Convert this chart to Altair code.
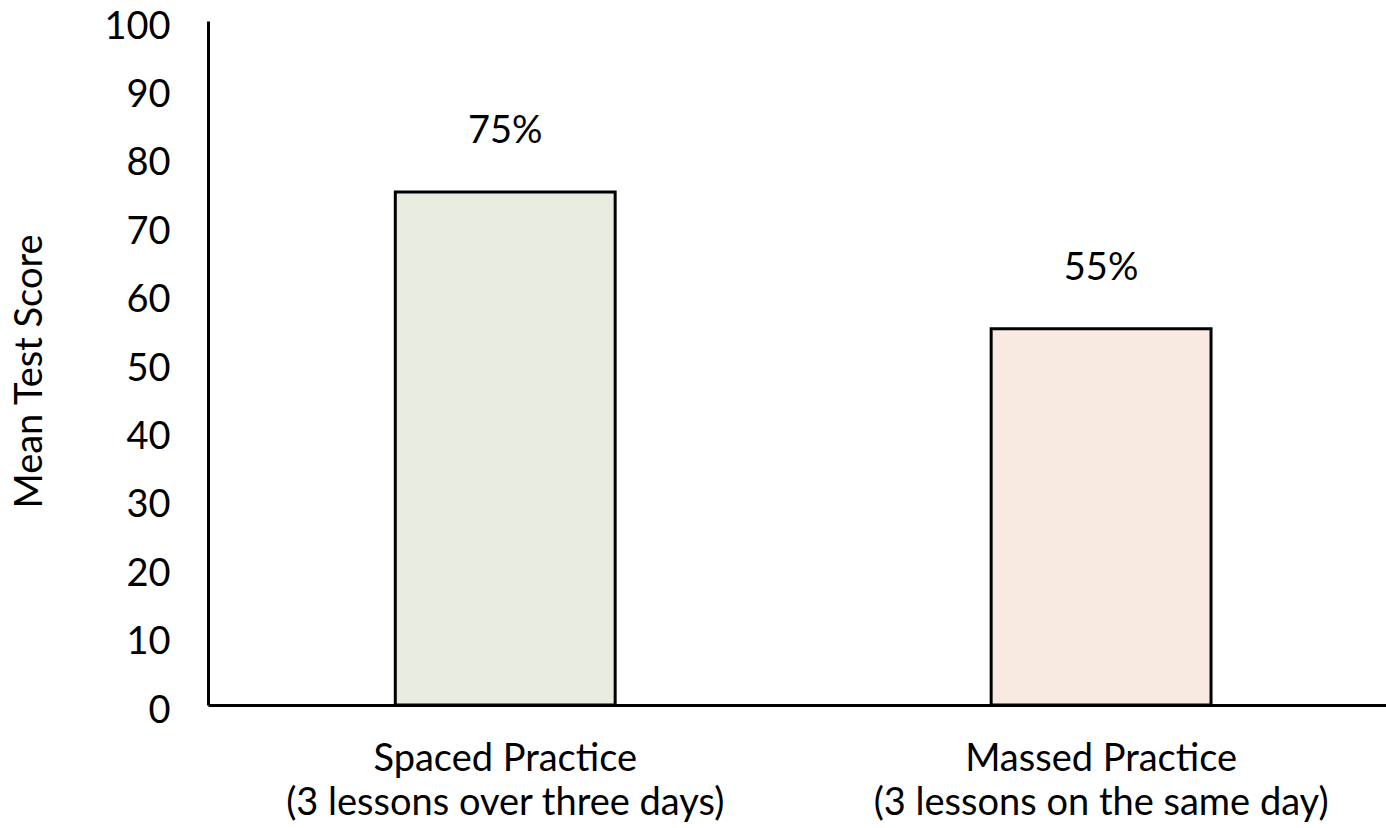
import altair as alt
import pandas as pd

categories = ["Spaced Practice\n(3 lessons over three days)",
              "Massed Practice\n(3 lessons on the same day)"]
scores = [75, 55]
score_labels = ["75%", "55%"]
bar_colors = ["#E9ECE0", "#F8EAE0"]
y_ticks = [0, 10, 20, 30, 40, 50, 60, 70, 80, 90, 100]

df = pd.DataFrame({"cat": categories, "score": scores, "label": score_labels})

FONT = "Lato"
FS = 38

x_enc = alt.X("cat:N", sort=categories,
              scale=alt.Scale(paddingInner=0.631, paddingOuter=0.304, align=0.517),
              axis=alt.Axis(title=None, labelAngle=0, ticks=False, labelLimit=0,
                            labelExpr="split(datum.label, '\\n')",
                            labelFont=FONT, labelFontSize=FS, labelColor="#000000",
                            labelPadding=35, labelLineHeight=44,
                            domainColor="#000000", domainWidth=3))

bars = alt.Chart(df).mark_bar(stroke="#000000", strokeWidth=3).encode(
    x=x_enc,
    y=alt.Y("score:Q", scale=alt.Scale(domain=[0, 100], nice=False),
            axis=alt.Axis(title="Mean Test Score", values=y_ticks, grid=False,
                          ticks=False, labelFont=FONT, labelFontSize=FS,
                          labelColor="#000000", labelPadding=38, labelBaseline="middle",
                          labelOffset=6,
                          labelOverlap=False, labelFlush=False,
                          titleFont=FONT, titleFontSize=FS, titleFontWeight="normal",
                          titleColor="#000000", titleX=-178, titleY=350,
                          titleBaseline="middle", titleAlign="center", titleAngle=-90,
                          domainColor="#000000", domainWidth=3)),
    color=alt.Color("cat:N", sort=categories,
                    scale=alt.Scale(domain=categories, range=bar_colors), legend=None),
)

text = alt.Chart(df).mark_text(font=FONT, fontSize=FS, color="#000000", dy=-60,
                               baseline="middle").encode(
    x=alt.X("cat:N", sort=categories),
    y=alt.Y("score:Q"),
    text="label:N",
)

chart = (bars + text).properties(
    width=1178, height=684,
    autosize=alt.AutoSizeParams(type="none"),
    padding={"left": 208, "top": 21, "right": 0, "bottom": 123},
    background="#FFFFFF",
).configure_view(stroke=None)

chart.save("out.html", embed_options={"renderer": "svg", "actions": False})
